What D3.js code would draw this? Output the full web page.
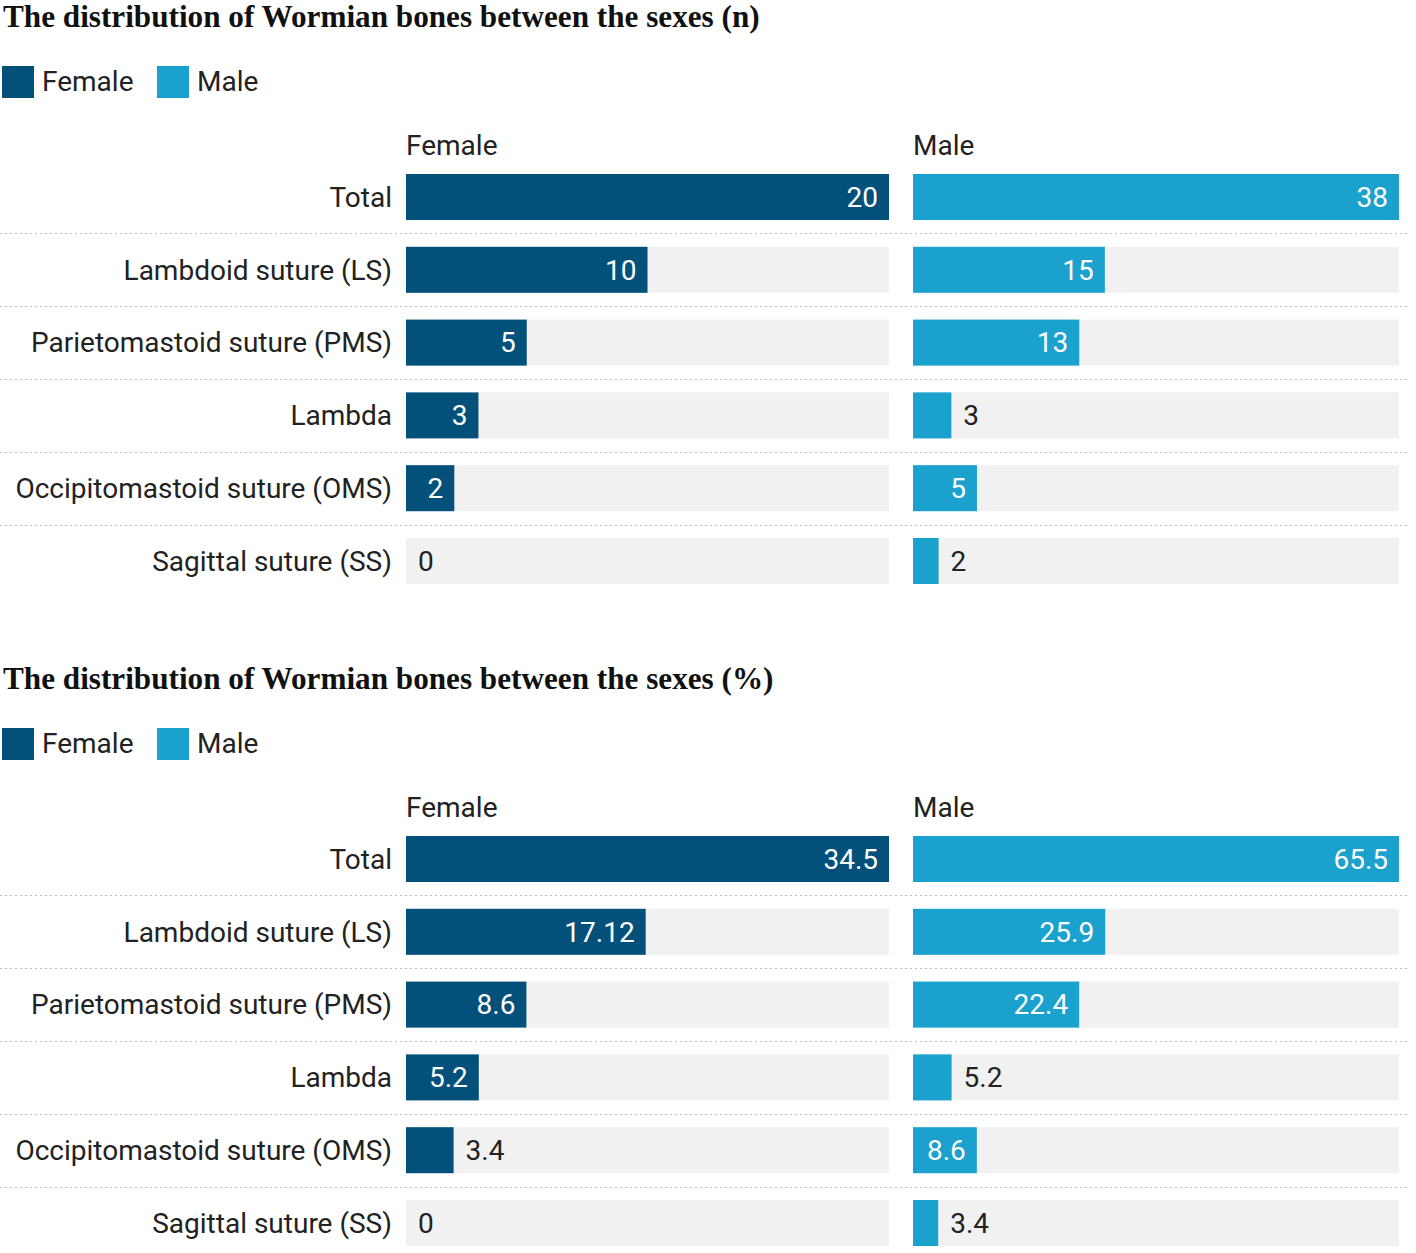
<!DOCTYPE html>
<html><head><meta charset="utf-8">
<script src="https://cdn.jsdelivr.net/npm/d3@7"></script>
<style>
html,body{margin:0;padding:0;background:#fff;}
svg{display:block;}
</style></head>
<body>
<svg id="chart" width="1416" height="1253"></svg>
<script>
const categories = ["Total","Lambdoid suture (LS)","Parietomastoid suture (PMS)","Lambda","Occipitomastoid suture (OMS)","Sagittal suture (SS)"];
const seriesNames = ["Female","Male"];
const femaleN = [20,10,5,3,2,0];
const maleN = [38,15,13,3,5,2];
const femalePct = [34.5,17.12,8.6,5.2,3.4,0];
const malePct = [65.5,25.9,22.4,5.2,8.6,3.4];
const titles = ["The distribution of Wormian bones between the sexes (n)","The distribution of Wormian bones between the sexes (%)"];

const colors = {Female:"#03507a", Male:"#1aa1cd"};
const bgGrey = "#f1f1f1";
const textCol = "#222";
const svg = d3.select("#chart");
const labelFont = "Roboto, 'Noto Sans', sans-serif";
const fs = 28;

function panel(y0, title, fem, mal){
  const g = svg.append("g").attr("transform", `translate(0,${y0})`);
  g.append("text").attr("x",3).attr("y",27)
    .attr("font-family","'Liberation Serif', 'Times New Roman', serif")
    .attr("font-weight","bold").attr("font-size",31.2).attr("fill","#111").text(title);
  const legX = [2,157];
  seriesNames.forEach((s,i)=>{
    g.append("rect").attr("x",legX[i]).attr("y",66).attr("width",32).attr("height",32).attr("fill",colors[s]);
    g.append("text").attr("x",legX[i]+40).attr("y",91).attr("font-family",labelFont)
      .attr("font-size",fs).attr("fill",textCol).text(s);
  });
  const y = d3.scaleBand().domain(categories).range([174, 174+410]).paddingInner(0.368).paddingOuter(0).align(0);
  const bw = y.bandwidth();
  const step = y.step();
  categories.slice(0,-1).forEach(c=>{
    const sy = Math.round(y(c)+bw+(step-bw)/2)+0.5;
    g.append("line").attr("x1",0).attr("x2",1410).attr("y1",sy).attr("y2",sy)
      .attr("stroke","#bdbdbd").attr("stroke-width",1.2).attr("stroke-dasharray","2,3");
  });
  g.selectAll("text.cat").data(categories).enter().append("text").attr("class","cat")
    .attr("x",392).attr("y",d=>y(d)+bw/2).attr("dy","0.35em").attr("text-anchor","end")
    .attr("font-family",labelFont).attr("font-size",fs).attr("fill",textCol).text(d=>d);
  const cols = [{name:"Female",vals:fem,r:[406,889]},{name:"Male",vals:mal,r:[913,1399]}];
  cols.forEach(col=>{
    const x = d3.scaleLinear().domain([0,d3.max(col.vals)]).range(col.r);
    g.append("text").attr("x",col.r[0]).attr("y",155).attr("font-family",labelFont)
      .attr("font-size",fs).attr("fill",textCol).text(col.name);
    const rows = categories.map((c,i)=>({c,v:col.vals[i]}));
    g.selectAll(null).data(rows).enter().append("rect")
      .attr("x",col.r[0]).attr("y",d=>y(d.c)).attr("width",col.r[1]-col.r[0]).attr("height",bw).attr("fill",bgGrey);
    g.selectAll(null).data(rows).enter().append("rect")
      .attr("x",x(0)).attr("y",d=>y(d.c)).attr("width",d=>x(d.v)-x(0)).attr("height",bw).attr("fill",colors[col.name]);
    rows.forEach(d=>{
      const t = g.append("text").attr("y",y(d.c)+bw/2).attr("dy","0.35em")
        .attr("font-family",labelFont).attr("font-size",fs).text(String(d.v));
      const tw = t.node().getComputedTextLength();
      const w = x(d.v)-x(0);
      if (w >= Math.max(tw + 22, 44)) {
        t.attr("x",x(d.v)-11).attr("text-anchor","end").attr("fill","#fff");
      } else {
        t.attr("x",x(d.v)+12).attr("text-anchor","start").attr("fill",textCol);
      }
    });
  });
}
panel(0, titles[0], femaleN, maleN);
panel(662, titles[1], femalePct, malePct);
</script>
</body></html>
